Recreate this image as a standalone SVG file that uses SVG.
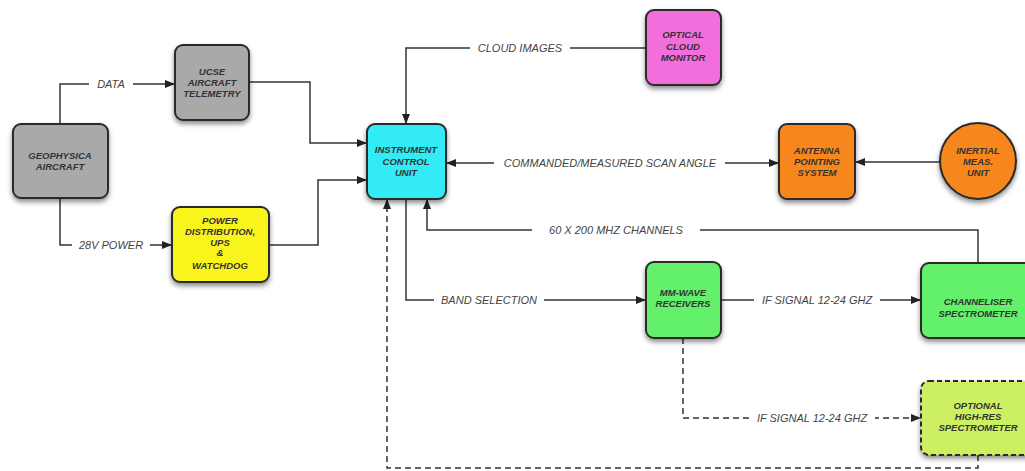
<svg xmlns="http://www.w3.org/2000/svg" width="1025" height="471" viewBox="0 0 1025 471">
<style>
.node{stroke:#2a2a2a;stroke-width:2;filter:url(#sh)}
.nt{font-family:"Liberation Sans",Arial,sans-serif;font-size:9.5px;font-weight:bold;font-style:italic;text-anchor:middle;fill:#333}
.ln{fill:none;stroke:#333;stroke-width:1.5}
.dl{fill:none;stroke:#333;stroke-width:1.5;stroke-dasharray:6 4}
.lb{font-family:"Liberation Sans",Arial,sans-serif;font-size:11px;font-style:italic;text-anchor:middle;fill:#444}
.bg{fill:#fff}
</style>
<defs>
<filter id="sh" x="-20%" y="-20%" width="140%" height="150%">
<feDropShadow dx="0" dy="3" stdDeviation="2.5" flood-color="#000" flood-opacity="0.45"/>
</filter>
<marker id="ah" viewBox="0 0 10 8" refX="10" refY="4" markerWidth="10" markerHeight="8" markerUnits="userSpaceOnUse" orient="auto-start-reverse">
<path d="M0,0 L10,4 L0,8 z" fill="#222"/>
</marker>
</defs>
<rect width="1025" height="471" fill="#fff"/>

<g id="connectors">
<path class="ln" d="M60,124 V84 H175" marker-end="url(#ah)"/>
<path class="ln" d="M60,198 V245 H172" marker-end="url(#ah)"/>
<path class="ln" d="M249,82 H310 V143 H367" marker-end="url(#ah)"/>
<path class="ln" d="M269,245 H318 V180 H367" marker-end="url(#ah)"/>
<path class="ln" d="M646,48 H406 V124" marker-end="url(#ah)"/>
<path class="ln" d="M446,163 H779" marker-start="url(#ah)" marker-end="url(#ah)"/>
<path class="ln" d="M940,162 H855" marker-end="url(#ah)"/>
<path class="ln" d="M978,263 V230 H427 V199" marker-end="url(#ah)"/>
<path class="ln" d="M406,199 V300 H646" marker-end="url(#ah)"/>
<path class="ln" d="M721,300 H921" marker-end="url(#ah)"/>
<path class="dl" d="M683,338 V418 H921" marker-end="url(#ah)"/>
<path class="dl" d="M978,455 V468 H387 V199" marker-end="url(#ah)"/>

<rect class="bg" x="89" y="76" width="44" height="16"/>
<text class="lb" x="111" y="88">DATA</text>
<rect class="bg" x="72" y="237" width="78" height="16"/>
<text class="lb" x="111" y="249">28V POWER</text>
<rect class="bg" x="470" y="40" width="100" height="16"/>
<text class="lb" x="520" y="52">CLOUD IMAGES</text>
<rect class="bg" x="494" y="155" width="231" height="16"/>
<text class="lb" x="610" y="167">COMMANDED/MEASURED SCAN ANGLE</text>
<rect class="bg" x="532" y="222" width="168" height="16"/>
<text class="lb" x="616" y="234">60 X 200 MHZ CHANNELS</text>
<rect class="bg" x="434" y="292" width="110" height="16"/>
<text class="lb" x="489" y="304">BAND SELECTION</text>
<rect class="bg" x="754" y="292" width="126" height="16"/>
<text class="lb" x="817" y="304">IF SIGNAL 12-24 GHZ</text>
<rect class="bg" x="749" y="410" width="126" height="16"/>
<text class="lb" x="812" y="422">IF SIGNAL 12-24 GHZ</text>
</g>

<g id="geophysica">
<rect class="node" x="13" y="124" width="95" height="74" rx="8" fill="#a9a9a9"/>
<text class="nt" x="60" y="159">GEOPHYSICA</text>
<text class="nt" x="60" y="170">AIRCRAFT</text>
</g>
<g id="ucse">
<rect class="node" x="175" y="45" width="74" height="75" rx="8" fill="#a9a9a9"/>
<text class="nt" x="212" y="75">UCSE</text>
<text class="nt" x="212" y="86">AIRCRAFT</text>
<text class="nt" x="212" y="97">TELEMETRY</text>
</g>
<g id="power">
<rect class="node" x="172" y="207" width="97" height="75" rx="8" fill="#f9f51a"/>
<text class="nt" x="220" y="224">POWER</text>
<text class="nt" x="220" y="235">DISTRIBUTION,</text>
<text class="nt" x="220" y="246">UPS</text>
<text class="nt" x="220" y="256">&amp;</text>
<text class="nt" x="220" y="269">WATCHDOG</text>
</g>
<g id="icu">
<rect class="node" x="367" y="124" width="79" height="75" rx="8" fill="#30ebf5"/>
<text class="nt" x="406" y="153">INSTRUMENT</text>
<text class="nt" x="406" y="165">CONTROL</text>
<text class="nt" x="406" y="176">UNIT</text>
</g>
<g id="ocm">
<rect class="node" x="646" y="10" width="75" height="75" rx="8" fill="#f26edc"/>
<text class="nt" x="683" y="38">OPTICAL</text>
<text class="nt" x="683" y="50">CLOUD</text>
<text class="nt" x="683" y="61">MONITOR</text>
</g>
<g id="antenna">
<rect class="node" x="779" y="124" width="76" height="75" rx="8" fill="#f7871e"/>
<text class="nt" x="817" y="154">ANTENNA</text>
<text class="nt" x="817" y="165">POINTING</text>
<text class="nt" x="817" y="176">SYSTEM</text>
</g>
<g id="imu">
<circle class="node" cx="978" cy="161" r="38" fill="#f7871e"/>
<text class="nt" x="978" y="154">INERTIAL</text>
<text class="nt" x="978" y="165">MEAS.</text>
<text class="nt" x="978" y="176">UNIT</text>
</g>
<g id="mmwave">
<rect class="node" x="646" y="262" width="75" height="76" rx="8" fill="#64f06a"/>
<text class="nt" x="683" y="296">MM-WAVE</text>
<text class="nt" x="683" y="307">RECEIVERS</text>
</g>
<g id="channeliser">
<rect class="node" x="921" y="263" width="114" height="75" rx="8" fill="#64f06a"/>
<text class="nt" x="978" y="305">CHANNELISER</text>
<text class="nt" x="978" y="317">SPECTROMETER</text>
</g>
<g id="optional">
<rect class="node" x="921" y="381" width="114" height="74" rx="8" fill="#cdf062" stroke-dasharray="5 3"/>
<text class="nt" x="978" y="409">OPTIONAL</text>
<text class="nt" x="978" y="420">HIGH-RES</text>
<text class="nt" x="978" y="431">SPECTROMETER</text>
</g>
</svg>
